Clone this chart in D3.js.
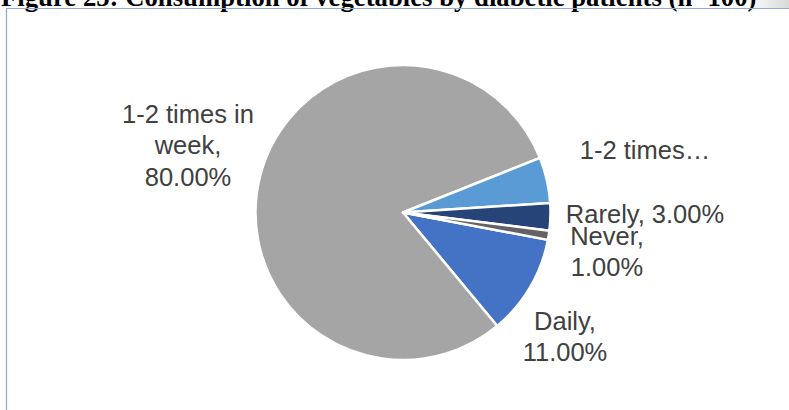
<!DOCTYPE html>
<html>
<head>
<meta charset="utf-8">
<script src="https://cdn.jsdelivr.net/npm/d3@7"></script>
<style>
  html, body { margin: 0; padding: 0; background: #fff; }
  svg { display: block; }
</style>
</head>
<body>
<svg id="chart" width="789" height="410"></svg>
<script>
// Vegetable consumption frequency among diabetic patients (n=100)
const categories = ["Daily", "1-2 times in week", "1-2 times…", "Rarely", "Never"];
const values = [11, 80, 5, 3, 1];
const colors = ["#4472C4", "#A5A5A5", "#5B9BD5", "#264478", "#636363"];
// Label lines per slice (name wrapped as drawn, then percentage)
const labelLines = [
  ["Daily,", "11.00%"],
  ["1-2 times in", "week,", "80.00%"],
  ["1-2 times…"],
  ["Rarely, 3.00%"],
  ["Never,", "1.00%"]
];
const labelPos = [
  [565, 330], [188, 123], [645, 159], [645, 223], [607, 245]
];

const svg = d3.select("#chart");
const W = 789, H = 410;

// Title (partly above the page edge)
const defs = svg.append("defs");
const grad = defs.append("linearGradient").attr("id", "shade")
  .attr("x1", 0).attr("x2", 1).attr("y1", 0).attr("y2", 0);
grad.append("stop").attr("offset", "0%").attr("stop-color", "#fff");
grad.append("stop").attr("offset", "100%").attr("stop-color", "#d9d9d9");
svg.append("rect").attr("x", 745).attr("y", 0).attr("width", 44).attr("height", 8)
  .attr("fill", "url(#shade)");

const title = svg.append("text")
  .attr("x", 1).attr("y", 6)
  .attr("font-family", "'Liberation Serif', 'Times New Roman', serif")
  .attr("font-weight", "bold")
  .attr("font-size", 21)
  .attr("fill", "#000")
  .text("Figure 25: Consumption of vegetables by diabetic patients (n=100)");
const tl = title.node().getComputedTextLength();
title.attr("font-size", 21 * 756 / tl);

// Chart frame
svg.append("path")
  .attr("d", `M6.5,${H} V8.5 H${W}`)
  .attr("fill", "none").attr("stroke", "#8EAADB").attr("stroke-width", 1.2);

// Pie
const cx = 403, cy = 212.5, r = 147.5;
const deg = Math.PI / 180;
const pie = d3.pie().sort(null).value(d => d.v)
  .startAngle(100.7 * deg).endAngle(460.7 * deg);
const data = categories.map((c, i) => ({ c, v: values[i], color: colors[i] }));
const arc = d3.arc().innerRadius(0).outerRadius(r);

const g = svg.append("g").attr("transform", `translate(${cx},${cy})`);
g.selectAll("path.slice")
  .data(pie(data))
  .join("path")
  .attr("class", "slice")
  .attr("d", arc)
  .attr("fill", d => d.data.color)
  .attr("stroke", "#fff")
  .attr("stroke-width", 2.5)
  .attr("stroke-linejoin", "round");

// Data labels
const lab = svg.append("g")
  .attr("font-family", "'Liberation Sans', Arial, sans-serif")
  .attr("font-size", 25.5)
  .attr("fill", "#404040")
  .attr("text-anchor", "middle");
labelLines.forEach((lines, i) => {
  const t = lab.append("text").attr("x", labelPos[i][0]).attr("y", labelPos[i][1]);
  lines.forEach((s, j) => {
    t.append("tspan").attr("x", labelPos[i][0]).attr("dy", j === 0 ? 0 : 31.3).text(s);
  });
});
</script>
</body>
</html>
